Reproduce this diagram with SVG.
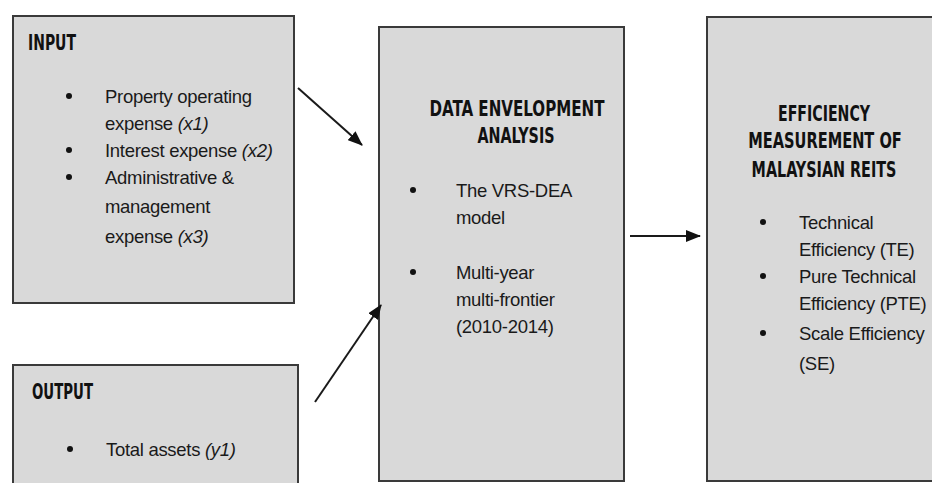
<svg xmlns="http://www.w3.org/2000/svg" width="932" height="483" viewBox="0 0 932 483">
  <defs>
    <marker id="arrowhead" markerWidth="15" markerHeight="12" refX="14" refY="6" orient="auto" markerUnits="userSpaceOnUse">
      <path d="M0,0 L15,6 L0,12 Z" fill="#111"/>
    </marker>
    <style>
      .box { fill: #d9d9d9; stroke: #3a3a3a; stroke-width: 2; }
      .head { font-family: "DejaVu Sans Condensed", "DejaVu Sans", sans-serif; font-stretch: condensed; font-weight: bold; font-size: 21px; fill: #111; }
      .mid { text-anchor: middle; }
      .body { font-family: "Liberation Sans", Arial, sans-serif; font-size: 18.5px; fill: #1a1a1a; letter-spacing: -0.3px; }
      .it { font-style: italic; }
      .dot { fill: #111; }
      .link { stroke: #1a1a1a; stroke-width: 2; fill: none; marker-end: url(#arrowhead); }
    </style>
  </defs>
  <rect width="932" height="483" fill="#ffffff"/>

  <!-- Input variables -->
  <g id="input">
    <rect class="box" x="13" y="16" width="281" height="287"/>
    <text class="head" x="28" y="50" textLength="48" lengthAdjust="spacingAndGlyphs">INPUT</text>
    <circle class="dot" cx="69" cy="96" r="3"/>
    <text class="body" x="105" y="103">Property operating</text>
    <text class="body" x="105" y="130">expense <tspan class="it">(x1)</tspan></text>
    <circle class="dot" cx="69" cy="150" r="3"/>
    <text class="body" x="105" y="157">Interest expense <tspan class="it">(x2)</tspan></text>
    <circle class="dot" cx="69" cy="177" r="3"/>
    <text class="body" x="105" y="184">Administrative &amp;</text>
    <text class="body" x="105" y="213">management</text>
    <text class="body" x="105" y="243">expense <tspan class="it">(x3)</tspan></text>
  </g>

  <!-- Output variable -->
  <g id="output">
    <rect class="box" x="13" y="365" width="285" height="140"/>
    <text class="head" x="32" y="399" textLength="61" lengthAdjust="spacingAndGlyphs">OUTPUT</text>
    <circle class="dot" cx="70" cy="449" r="3"/>
    <text class="body" x="106" y="456">Total assets <tspan class="it">(y1)</tspan></text>
  </g>

  <!-- DEA model -->
  <g id="dea">
    <rect class="box" x="379" y="27" width="245" height="454"/>
    <text class="head mid" x="517" y="116" textLength="175" lengthAdjust="spacingAndGlyphs">DATA ENVELOPMENT</text>
    <text class="head mid" x="516" y="143" textLength="77" lengthAdjust="spacingAndGlyphs">ANALYSIS</text>
    <circle class="dot" cx="413" cy="190" r="3"/>
    <text class="body" x="456" y="197">The VRS-DEA</text>
    <text class="body" x="456" y="224">model</text>
    <circle class="dot" cx="413" cy="272" r="3"/>
    <text class="body" x="456" y="279">Multi-year</text>
    <text class="body" x="456" y="306">multi-frontier</text>
    <text class="body" x="456" y="333">(2010-2014)</text>
  </g>

  <!-- Efficiency results; headings squeezed horizontally to keep them narrow -->
  <g id="efficiency">
    <rect class="box" x="707" y="17" width="240" height="464"/>
    <text class="head mid" transform="translate(824 121) scale(0.8 1)" textLength="115" lengthAdjust="spacingAndGlyphs">EFFICIENCY</text>
    <text class="head mid" transform="translate(825 148) scale(0.8 1)" textLength="192" lengthAdjust="spacingAndGlyphs">MEASUREMENT OF</text>
    <text class="head mid" transform="translate(824 177) scale(0.8 1)" textLength="181" lengthAdjust="spacingAndGlyphs">MALAYSIAN REITS</text>
    <circle class="dot" cx="763" cy="222" r="3"/>
    <text class="body" x="799" y="229">Technical</text>
    <text class="body" x="799" y="256">Efficiency (TE)</text>
    <circle class="dot" cx="763" cy="276" r="3"/>
    <text class="body" x="799" y="283">Pure Technical</text>
    <text class="body" x="799" y="310">Efficiency (PTE)</text>
    <circle class="dot" cx="763" cy="333" r="3"/>
    <text class="body" x="799" y="340">Scale Efficiency</text>
    <text class="body" x="799" y="370">(SE)</text>
  </g>

  <!-- Connectors -->
  <g id="connectors">
    <line class="link" x1="298" y1="88" x2="362" y2="145"/>
    <line class="link" x1="315" y1="402" x2="381" y2="305"/>
    <line class="link" x1="630" y1="236" x2="700" y2="236"/>
  </g>
</svg>
